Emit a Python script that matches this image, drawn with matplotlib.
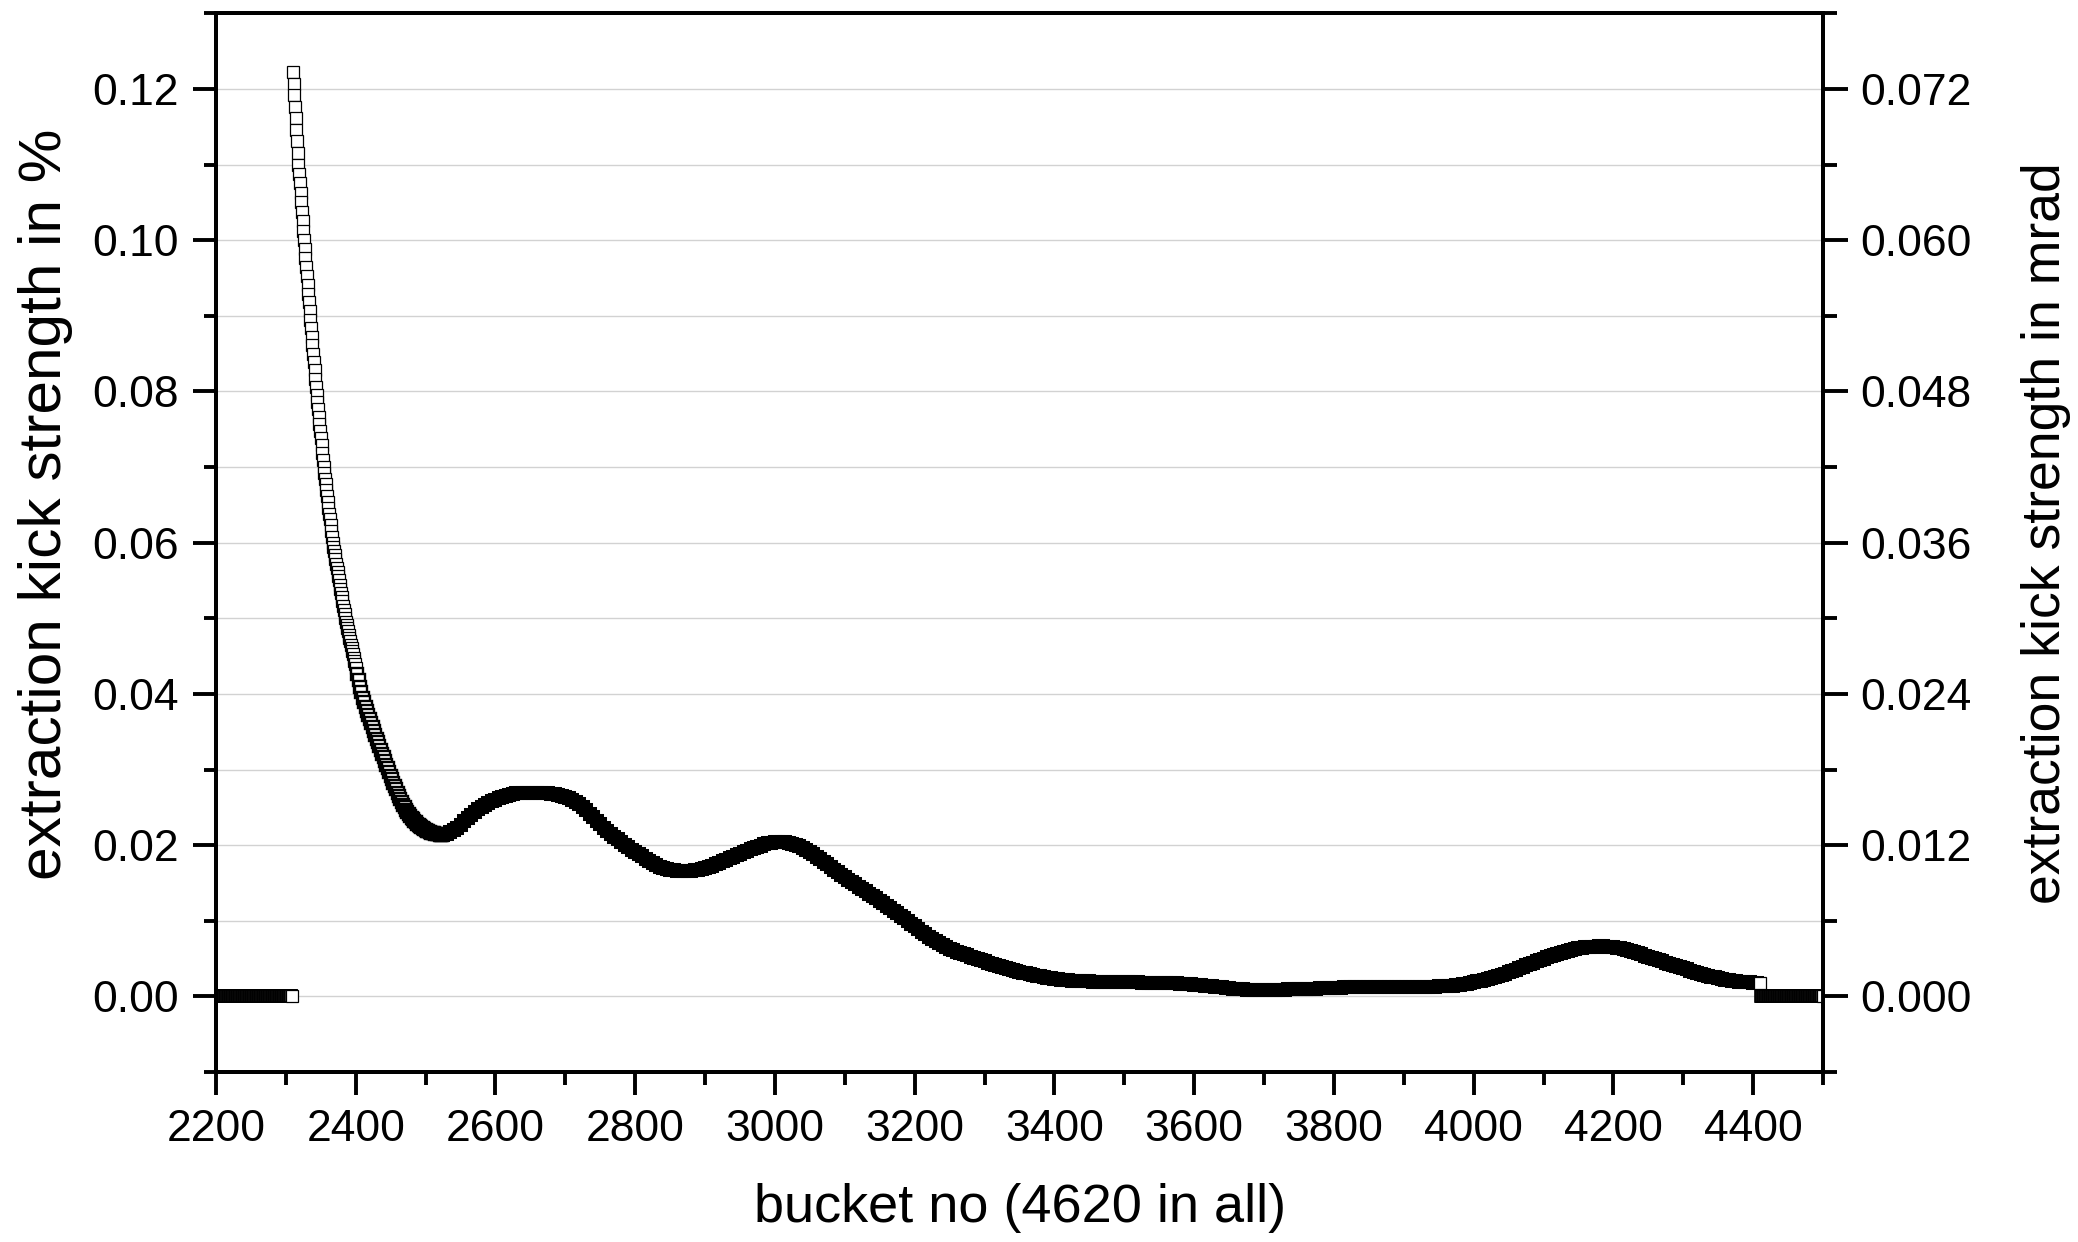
import numpy as np
import matplotlib
matplotlib.use("Agg")
import matplotlib.pyplot as plt
from matplotlib.ticker import MultipleLocator, FormatStrFormatter

plt.rcParams['font.family'] = ['Liberation Sans', 'DejaVu Sans']

# ---------------- data (values in units of 1e-5, i.e. 1e-3 %) ----------------
# zero segments (bucket numbers, value 0)
zero_left_x = np.arange(2200, 2310)
zero_right_x = np.arange(4411, 4501)

# steep start, every bucket 2310..2400
steep_x = np.arange(2310, 2401)
steep_y = [
    12220, 12068, 11915, 11763, 11610, 11458, 11305, 11153, 11000, 10875,
    10750, 10625, 10500, 10375, 10250, 10125, 10000, 9882, 9765, 9647,
    9529, 9412, 9294, 9176, 9059, 8944, 8833, 8722, 8611, 8500,
    8389, 8278, 8167, 8056, 7952, 7857, 7762, 7667, 7571, 7476,
    7381, 7286, 7190, 7095, 7000, 6923, 6846, 6769, 6692, 6615,
    6538, 6462, 6385, 6308, 6231, 6154, 6077, 6000, 5944, 5889,
    5833, 5778, 5722, 5667, 5611, 5556, 5500, 5444, 5389, 5333,
    5278, 5222, 5167, 5111, 5056, 5000, 4957, 4913, 4870, 4826,
    4783, 4739, 4696, 4652, 4609, 4565, 4522, 4478, 4435, 4391,
    4348,
]

# every 2 buckets 2402..2524
mid_x = np.arange(2402, 2525, 2)
mid_y = [
    4262, 4178, 4097, 4020,
    3948, 3888, 3833, 3778, 3724, 3670, 3617, 3564, 3512, 3460,
    3409, 3358, 3308, 3258, 3208, 3159, 3110, 3062, 3014, 2966,
    2919, 2872, 2826, 2780, 2736, 2692, 2650, 2610, 2572, 2536,
    2502, 2470, 2440, 2412, 2386, 2362, 2340, 2320, 2302, 2284,
    2265, 2250, 2236, 2223, 2211, 2200, 2190, 2181, 2173, 2166,
    2160, 2154, 2149, 2145, 2141, 2138, 2136, 2135,
]

# every 5 buckets 2525..4410
tail_x = np.arange(2525, 4411, 5)
tail_y = [
    2136, 2150, 2170, 2195, 2225, 2265, 2315, 2365, 2405, 2440,   # 2525
    2475, 2505, 2530, 2555, 2580, 2602, 2622, 2640, 2656, 2668,   # 2575
    2677, 2684, 2689, 2692, 2694, 2695, 2695, 2694, 2692, 2689,   # 2625
    2685, 2680, 2673, 2665, 2652, 2636, 2617, 2596, 2575, 2548,   # 2675
    2510, 2465, 2418, 2370, 2322, 2276, 2232, 2190, 2150, 2112,   # 2725
    2075, 2040, 2006, 1973, 1941, 1910, 1880, 1851, 1820, 1790,   # 2775
    1762, 1738, 1717, 1699, 1685, 1674, 1666, 1661, 1658, 1657,   # 2825
    1658, 1661, 1665, 1671, 1680, 1694, 1711, 1730, 1750, 1770,   # 2875
    1790, 1810, 1830, 1849, 1868, 1887, 1906, 1925, 1943, 1961,   # 2925
    1978, 1995, 2010, 2023, 2033, 2040, 2043, 2042, 2037, 2029,   # 2975
    2018, 2003, 1985, 1962, 1936, 1907, 1877, 1846, 1813, 1779,   # 3025
    1745, 1711, 1677, 1643, 1610, 1577, 1545, 1513, 1481, 1450,   # 3075
    1419, 1388, 1357, 1326, 1295, 1264, 1232, 1199, 1166, 1132,   # 3125
    1098, 1064, 1030, 995, 960, 925, 890, 856, 823, 791,          # 3175
    760, 731, 703, 677, 653, 631, 611, 592, 574, 557,             # 3225
    541, 525, 509, 493, 478, 463, 448, 433, 419, 405,             # 3275
    391, 377, 364, 351, 338, 326, 314, 303, 292, 282,             # 3325
    272, 263, 254, 246, 238, 231, 225, 219, 214, 210,             # 3375
    206, 203, 201, 199, 198, 197, 196, 195, 195, 194,             # 3425
    193, 192, 191, 190, 189, 188, 187, 186, 185, 184,             # 3475
    183, 182, 181, 180, 179, 178, 177, 176, 175, 174,             # 3525
    172, 170, 167, 164, 160, 156, 152, 148, 143, 138,             # 3575
    133, 128, 123, 118, 113, 108, 103, 99, 95, 92,                # 3625
    89, 87, 86, 85, 85, 85, 85, 86, 87, 88,                       # 3675
    89, 90, 91, 92, 93, 94, 95, 97, 99, 101,                      # 3725
    103, 105, 107, 109, 111, 113, 115, 117, 119, 121,             # 3775
    122, 123, 124, 125, 126, 127, 128, 128, 129, 129,             # 3825
    129, 129, 129, 129, 129, 129, 128, 128, 128, 128,             # 3875
    128, 128, 129, 129, 130, 131, 132, 134, 137, 141,             # 3925
    146, 152, 159, 167, 176, 186, 197, 209, 221, 234,             # 3975
    247, 260, 272, 285, 302, 319, 337, 355, 373, 391,             # 4025
    410, 429, 447, 465, 483, 500, 518, 535, 551, 566,             # 4075
    580, 593, 605, 616, 626, 634, 641, 647, 652, 656,             # 4125
    659, 660, 660, 659, 656, 652, 645, 636, 626, 614,             # 4175
    601, 587, 572, 556, 540, 524, 508, 492, 477, 462,             # 4225
    447, 432, 417, 402, 387, 372, 357, 342, 328, 314,             # 4275
    300, 287, 274, 262, 250, 239, 229, 220, 212, 205,             # 4325
    199, 194, 190, 187, 184, 182, 181, 180,                       # 4375
]

assert len(steep_y) == len(steep_x)
assert len(mid_y) == len(mid_x)
assert len(tail_y) == len(tail_x)

SCALE = 1e-5
steep_v = np.array(steep_y) * SCALE
mid_v = np.array(mid_y) * SCALE
tail_v = np.array(tail_y) * SCALE
zero_left_y = np.zeros(len(zero_left_x))
zero_right_y = np.zeros(len(zero_right_x))

MRAD_PER_PERCENT = 0.6

x_major = 200
x_minor = 100
y_major = 0.02
y_minor = 0.01

# ---------------- figure ----------------
W, H = 2078, 1242
fig = plt.figure(figsize=(W / 100, H / 100), dpi=100)
L, R, T, B = 216, 1823, 13.3, 1072
ax = fig.add_axes([L / W, 1 - B / H, (R - L) / W, (B - T) / H])

ax.set_xlim(2200, 4500)
ax.set_ylim(-0.01, 0.13)

OUTER = 9.8  # outer square size in points (ms + mew)


def mk(mew):
    return dict(ls='none', marker='s', ms=OUTER - mew, mfc='white',
                mec='black', mew=mew, zorder=3)


ax.plot(zero_left_x[:-1], zero_left_y[:-1], **mk(1.2))
ax.plot(zero_left_x[-1:], zero_left_y[-1:], **mk(0.9))
ax.plot(steep_x, steep_v, **mk(0.9))
ax.plot(mid_x, mid_v, **mk(1.7))
ax.plot(tail_x[:-1], tail_v[:-1], **mk(2.9))
ax.plot(tail_x[-1:], tail_v[-1:], **mk(0.9))
ax.plot(zero_right_x[:-1], zero_right_y[:-1], **mk(1.2))
ax.plot(zero_right_x[-1:], zero_right_y[-1:], **mk(0.9))

ax.xaxis.set_major_locator(MultipleLocator(x_major))
ax.xaxis.set_minor_locator(MultipleLocator(x_minor))
ax.yaxis.set_major_locator(MultipleLocator(y_major))
ax.yaxis.set_minor_locator(MultipleLocator(y_minor))
ax.xaxis.set_major_formatter(FormatStrFormatter('%d'))
ax.yaxis.set_major_formatter(FormatStrFormatter('%.2f'))

ax.yaxis.grid(True, which='both', color='#d2d2d2', lw=1.0)
ax.set_axisbelow(True)

for s in ax.spines.values():
    s.set_linewidth(2.8)

ax.tick_params(axis='both', which='major', direction='out', length=16.5,
               width=2.8, labelsize=32, pad=10)
ax.tick_params(axis='both', which='minor', direction='out', length=9, width=2.8)
ax.tick_params(axis='x', which='major', pad=10)

ax2 = ax.twinx()
ax2.set_ylim(-0.01 * MRAD_PER_PERCENT, 0.13 * MRAD_PER_PERCENT)
ax2.yaxis.set_major_locator(MultipleLocator(y_major * MRAD_PER_PERCENT))
ax2.yaxis.set_minor_locator(MultipleLocator(y_minor * MRAD_PER_PERCENT))
ax2.yaxis.set_major_formatter(FormatStrFormatter('%.3f'))
for s in ax2.spines.values():
    s.set_linewidth(2.8)
ax2.tick_params(axis='y', which='major', direction='out', length=18,
                width=2.8, labelsize=32, pad=9)
ax2.tick_params(axis='y', which='minor', direction='out', length=10, width=2.8)

fig.text(1020 / W, 1 - 1222 / H, 'bucket no (4620 in all)', ha='center',
         va='baseline', fontsize=39)
fig.text(46 / W, 1 - 504 / H, 'extraction kick strength in %', rotation=90,
         ha='center', va='center', fontsize=43.5)
fig.text(2046 / W, 1 - 533 / H, 'extraction kick strength in mrad', rotation=90,
         ha='center', va='center', fontsize=38.5)

fig.savefig('out.png', dpi=100)
